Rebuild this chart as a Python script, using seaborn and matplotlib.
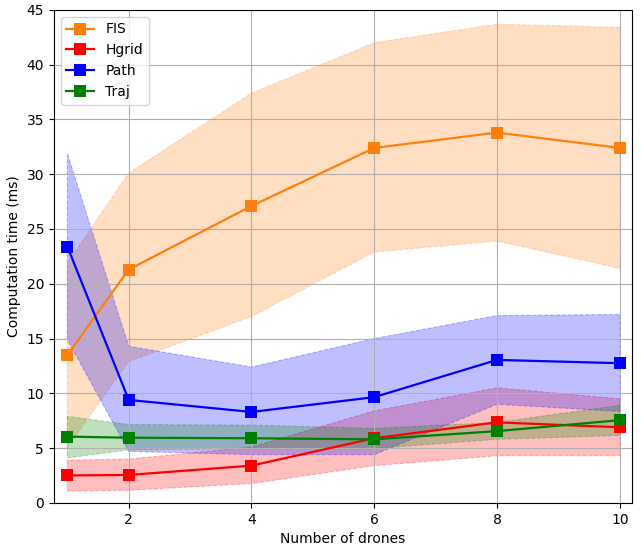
import numpy as np
import pandas as pd
import matplotlib
matplotlib.use("Agg")
import matplotlib.pyplot as plt
import seaborn as sns

drones = [1, 2, 4, 6, 8, 10]

fis_mean = [13.5, 21.3, 27.1, 32.4, 33.8, 32.4]
fis_low = [5.1, 12.9, 17.0, 22.9, 23.9, 21.4]
fis_high = [21.9, 30.1, 37.4, 42.0, 43.7, 43.4]

hgrid_mean = [2.5, 2.55, 3.4, 5.9, 7.35, 6.9]
hgrid_low = [1.07, 1.15, 1.76, 3.4, 4.3, 4.3]
hgrid_high = [3.9, 4.0, 5.1, 8.4, 10.5, 9.5]

path_mean = [23.4, 9.4, 8.3, 9.65, 13.05, 12.75]
path_low = [14.9, 4.7, 4.4, 4.4, 9.0, 8.35]
path_high = [31.9, 14.3, 12.4, 15.0, 17.1, 17.2]

traj_mean = [6.05, 5.95, 5.9, 5.8, 6.55, 7.55]
traj_low = [4.1, 4.85, 4.95, 4.95, 5.8, 6.15]
traj_high = [7.9, 7.15, 7.1, 6.8, 7.35, 8.9]

series = {
    "FIS": (fis_mean, fis_low, fis_high, "#ff7f0e"),
    "Hgrid": (hgrid_mean, hgrid_low, hgrid_high, "red"),
    "Path": (path_mean, path_low, path_high, "blue"),
    "Traj": (traj_mean, traj_low, traj_high, "green"),
}

rows = []
for name, (m, lo, hi, c) in series.items():
    for x, v in zip(drones, m):
        rows.append({"drones": x, "time": v, "method": name})
df = pd.DataFrame(rows)

fig, ax = plt.subplots(figsize=(6.41, 5.49), dpi=100)
fig.subplots_adjust(left=0.084, right=0.986, top=0.982, bottom=0.084)

for name, (m, lo, hi, c) in series.items():
    ax.fill_between(drones, lo, hi, color=c, alpha=0.25, linestyle="--", linewidth=0.8)

palette = {k: v[3] for k, v in series.items()}
sns.lineplot(data=df, x="drones", y="time", hue="method", palette=palette,
             marker="s", markersize=8, markeredgewidth=0, linewidth=1.6, ax=ax)

ax.set_xlim(0.78, 10.2)
ax.set_ylim(0, 45)
ax.set_xticks([2, 4, 6, 8, 10])
ax.grid(True, color="#b0b0b0", linewidth=0.8)
# grid above the shaded bands, below the lines
ax.set_axisbelow("line")
ax.set_xlabel("Number of drones")
ax.set_ylabel("Computation time (ms)")
ax.legend(loc="upper left", title=None)

fig.savefig("out.png", dpi=100)
